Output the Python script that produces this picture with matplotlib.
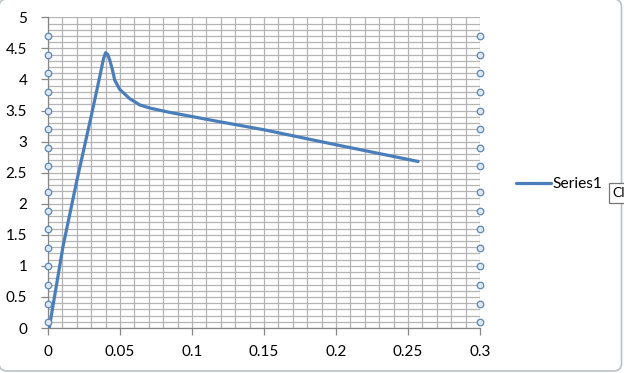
import numpy as np
import matplotlib.pyplot as plt
from matplotlib.patches import FancyBboxPatch, Rectangle
from matplotlib.ticker import MultipleLocator
from matplotlib.transforms import IdentityTransform

plt.rcParams['font.family'] = ['Lato', 'DejaVu Sans']

# Series1
x = [0.001, 0.0104, 0.0201, 0.0301, 0.0359, 0.0385, 0.0400, 0.0415, 0.0429,
     0.0448, 0.0463, 0.0498, 0.0568, 0.0637, 0.0706, 0.0845, 0.0984, 0.119,
     0.1500, 0.1956, 0.2570]
y = [0.02, 1.31, 2.38, 3.42, 4.04, 4.33, 4.43, 4.40, 4.31,
     4.15, 3.99, 3.84, 3.69, 3.59, 3.54, 3.47, 3.41, 3.32,
     3.19, 2.97, 2.68]

# selection handles drawn by Excel on both sides of the plot area
handle_y = [4.7, 4.4, 4.1, 3.8, 3.5, 3.2, 2.9, 2.6,
            2.19, 1.89, 1.59, 1.29, 0.99, 0.69, 0.39, 0.09]
handle_x = [0.0, 0.3]

blue = '#4A7EBB'
grid = '#b4b4b4'

fig = plt.figure(figsize=(6.24, 3.73), dpi=100)
ax = fig.add_axes([48/624, 1-328/373, 432/624, (328-17.3)/373])

ax.set_xlim(0, 0.3)
ax.set_ylim(0, 5)
ax.xaxis.set_major_locator(MultipleLocator(0.05))
ax.xaxis.set_minor_locator(MultipleLocator(0.01))
ax.yaxis.set_major_locator(MultipleLocator(0.5))
ax.yaxis.set_minor_locator(MultipleLocator(0.1))
ax.set_xticks([0, 0.05, 0.1, 0.15, 0.2, 0.25, 0.3])
ax.set_xticklabels(['0', '0.05', '0.1', '0.15', '0.2', '0.25', '0.3'])
ax.set_yticks([0, 0.5, 1, 1.5, 2, 2.5, 3, 3.5, 4, 4.5, 5])
ax.set_yticklabels(['0', '0.5', '1', '1.5', '2', '2.5', '3', '3.5', '4', '4.5', '5'])

ax.grid(True, which='both', color=grid, lw=0.9)
ax.set_axisbelow(True)
ax.tick_params(which='minor', length=0)
ax.tick_params(which='major', length=5, width=0.9, color='#868686',
               labelsize=11, labelcolor='black')
ax.tick_params(axis='x', pad=7.5)
ax.tick_params(axis='y', pad=10)
for s in ['top', 'right']:
    ax.spines[s].set_visible(False)
for s in ['left', 'bottom']:
    ax.spines[s].set_color('#868686')
    ax.spines[s].set_linewidth(0.9)

ax.plot(x, y, color=blue, lw=2.3, solid_capstyle='round',
        solid_joinstyle='round', label='Series1', zorder=3)

for hx in handle_x:
    ax.scatter([hx] * len(handle_y), handle_y, s=22, facecolor='#dce8f4',
               edgecolor='#5b88b8', linewidths=0.9, zorder=4, clip_on=False)

leg = fig.legend(loc='center left', bbox_to_anchor=(516/624, 1-184/373),
                 frameon=False, fontsize=11.2, handlelength=2.25,
                 handletextpad=0.1, borderpad=0, borderaxespad=0)

# chart area border
border = FancyBboxPatch((-1, 2), 622.5, 372, boxstyle='round,pad=0,rounding_size=8',
                        transform=IdentityTransform(), fill=False,
                        edgecolor='#b9c2c6', lw=1.2)
fig.add_artist(border)

# tooltip poking in from the right edge
tip = Rectangle((608.5, 373-203), 30, 20.5, transform=IdentityTransform(),
                facecolor='white', edgecolor='#767676', lw=0.9, zorder=5)
fig.add_artist(tip)
fig.text(612.5/624, 1-193/373, 'Cl', fontsize=10, va='center', ha='left', zorder=6)

fig.savefig('out.png', dpi=100)
